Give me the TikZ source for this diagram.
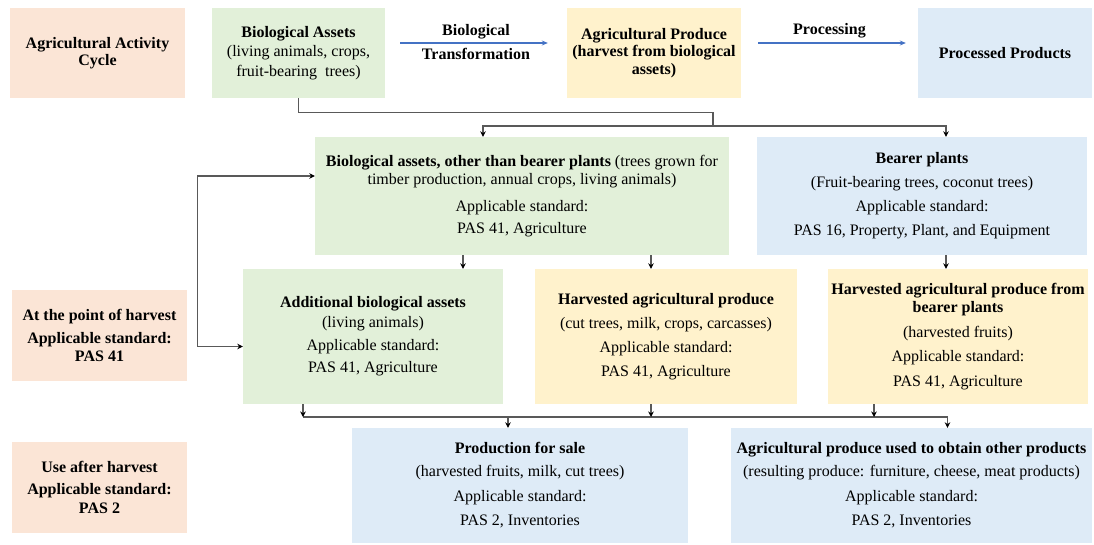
\documentclass[tikz,border=0pt]{standalone}
\usepackage{fontspec}
\setmainfont{Liberation Serif}
\usepackage{tikz}
\usetikzlibrary{arrows.meta}
\usetikzlibrary{backgrounds}

\definecolor{salmon}{HTML}{FBE5D6}
\definecolor{sage}{HTML}{E2F0D9}
\definecolor{cream}{HTML}{FFF2CC}
\definecolor{sky}{HTML}{DEEBF7}
\definecolor{flowblue}{HTML}{4472C4}
\definecolor{wire}{HTML}{595959}
\newcommand{\boxfont}{\fontsize{16}{18.5}\selectfont}

\begin{document}
\begin{tikzpicture}[x=1pt,y=-1pt,font=\boxfont]
	\useasboundingbox (0,0) rectangle (1094,544);
	\begin{scope}[every node/.style={align=center,inner sep=0pt}]
		\node[fill=salmon,font=\boxfont\bfseries,minimum width=175pt,minimum height=90pt] (1) at (97.5,53) {Agricultural Activity\\[-1pt]Cycle};
		\node[fill=sage,minimum width=173pt,minimum height=90pt] (2) at (298.5,53) {\textbf{Biological Assets}\\[1pt](living animals, crops,\\[1pt]fruit-bearing\ \ trees)};
		\node[fill=cream,font=\boxfont\bfseries,minimum width=174pt,minimum height=90pt] (3) at (654,53) {Agricultural Produce\\[-1pt](harvest from biological\\[-1pt]assets)};
		\node[fill=sky,font=\boxfont\bfseries,minimum width=174pt,minimum height=90pt] (4) at (1005,53) {Processed Products};
		\node[fill=sage,minimum width=414pt,minimum height=118pt] (5) at (522,196) {\textbf{Biological assets, other than bearer plants} (trees grown for\\timber production, annual crops, living animals)\\[8pt]Applicable standard:\\[4pt]PAS 41, Agriculture};
		\node[fill=sky,minimum width=330pt,minimum height=118pt] (6) at (922,196) {\textbf{Bearer plants}\\[5.5pt](Fruit-bearing trees, coconut trees)\\[5.5pt]Applicable standard:\\[5.5pt]PAS 16, Property, Plant, and Equipment};
		\node[fill=salmon,font=\boxfont\bfseries,minimum width=175pt,minimum height=91pt] (7) at (99.5,335.5) {At the point of harvest\\[4.5pt]Applicable standard:\\PAS 41};
		\node[fill=sage,minimum width=260pt,minimum height=135pt] (8) at (373,336.5) {\textbf{Additional biological assets}\\[1.5pt](living animals)\\[4.5pt]Applicable standard:\\[3.5pt]PAS 41, Agriculture};
		\node[fill=cream,minimum width=262pt,minimum height=135pt] (9) at (666,336.5) {\textbf{Harvested agricultural produce}\\[5.5pt](cut trees, milk, crops, carcasses)\\[5.5pt]Applicable standard:\\[5.5pt]PAS 41, Agriculture};
		\node[fill=cream,minimum width=260pt,minimum height=135pt] (10) at (958,336.5) {\textbf{Harvested agricultural produce from}\\\textbf{bearer plants}\\[6.5pt](harvested fruits)\\[5.5pt]Applicable standard:\\[6.5pt]PAS 41, Agriculture};
		\node[fill=salmon,font=\boxfont\bfseries,minimum width=175pt,minimum height=91pt] (11) at (99.5,487.5) {Use after harvest\\[3.5pt]Applicable standard:\\PAS 2};
		\node[fill=sky,minimum width=336pt,minimum height=115pt] (12) at (520,485.5) {\textbf{Production for sale}\\[4.5pt](harvested fruits, milk, cut trees)\\[6.5pt]Applicable standard:\\[5.5pt]PAS 2, Inventories};
		\node[fill=sky,minimum width=361pt,minimum height=115pt] (13) at (911.5,485.5) {\textbf{Agricultural produce used to obtain other products}\\[4.5pt](resulting produce: furniture, cheese, meat products)\\[6.5pt]Applicable standard:\\[5.5pt]PAS 2, Inventories};
	\end{scope}

	\begin{scope}[>={Stealth[black,length=5.5pt,width=5.5pt]},
	              link/.style={draw=wire,line width=1.3pt},
	              flow/.style={draw=flowblue,line width=1.1pt,-{Stealth[flowblue,length=6pt,width=5pt]}},
	              every edge/.style={link}]
		% cycle along the top
		\path ([yshift=10pt]2.east) edge[flow,shorten <=15pt,shorten >=19pt] node[above=0pt,font=\boxfont\bfseries] {Biological} node[below=1pt,font=\boxfont\bfseries] {Transformation} ([yshift=10pt]3.west);
		\path ([yshift=10pt]3.east) edge[flow,shorten <=17pt,shorten >=12pt] node[above=1pt,font=\boxfont\bfseries] {Processing} ([yshift=10pt]4.west);

		% split of the biological assets
		\coordinate (s) at (713,126);
		\coordinate (a) at ([xshift=-39pt]5.north);
		\coordinate (b) at ([xshift=24pt]6.north);
		\draw[link] (2.south) -- ++(0,14) -| (s);
		\draw[link,->] (s) -| (a);
		\draw[link,->] (s) -| (b);

		% at the point of harvest
		\coordinate (c) at ([xshift=-59pt]5.south);
		\coordinate (d) at ([xshift=129pt]5.south);
		\coordinate (e) at ([xshift=24pt]6.south);
		\path (c) edge[->] (c |- 8.north);
		\path (d) edge[->] (d |- 9.north);
		\path (e) edge[->] (e |- 10.north);
		\draw[link,<->] ([yshift=20pt]5.west) -- ++(-117,0) |- ([yshift=-10pt]8.west);

		% use after harvest
		\coordinate (bus) at (0,417);
		\coordinate (f) at ([xshift=-70pt]8.south);
		\coordinate (g) at ([xshift=-15pt]9.south);
		\coordinate (h) at ([xshift=-84pt]10.south);
		\coordinate (i) at ([xshift=-12pt]12.north);
		\coordinate (j) at ([xshift=36pt]13.north);
		\draw[link] (f |- bus) -- (j |- bus);
		\foreach \k in {f,g,h}
			\path (\k) edge[->] (\k |- bus);
		\foreach \k in {i,j}
			\path (\k |- bus) edge[->] (\k);
	\end{scope}
\end{tikzpicture}
\end{document}
